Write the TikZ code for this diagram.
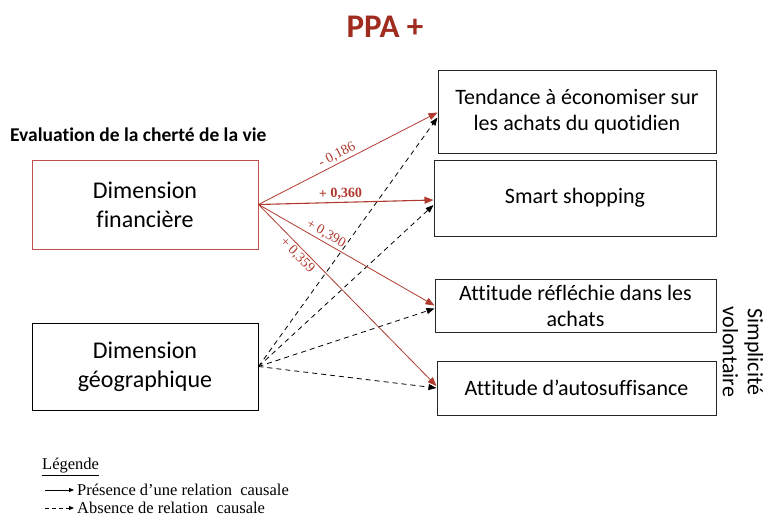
\documentclass[tikz,border=0pt]{standalone}
\usepackage{fontspec}
\setmainfont{Carlito}[Ligatures={NoCommon}]
\newfontfamily\timesfont{Liberation Serif}
\usetikzlibrary{arrows.meta,positioning}
\definecolor{ppared}{HTML}{A02B1F}
\definecolor{boxred}{HTML}{C0504D}
\definecolor{linkred}{HTML}{B03A2E}

\begin{document}
\begin{tikzpicture}[
  x=1pt, y=-1pt,
  dimbox/.style={rectangle, draw, line width=1pt, align=center, minimum width=226pt, font=\fontsize{24}{29}\selectfont},
  effbox/.style={rectangle, draw=black!85, line width=1pt, align=center, font=\fontsize{22}{26}\selectfont},
  link/.style={-{Triangle[length=9pt,width=7pt]}, draw=linkred, line width=0.8pt},
  nolink/.style={-{Triangle[length=8pt,width=6pt]}, dash pattern=on 5pt off 4pt, line width=0.8pt},
  coef/.style={font=\timesfont\fontsize{14}{16}\selectfont, text=linkred, sloped, inner sep=2pt},
  legtext/.style={font=\timesfont\fontsize{16.5}{18}\selectfont, anchor=west, inner sep=3pt}
]
  \useasboundingbox (0,0) rectangle (768,517);

  \node (title) [font=\bfseries\fontsize{33}{36}\selectfont, text=ppared] at (385,27) {PPA +};
  \node (evaltitle) [anchor=west, inner sep=0pt, font=\bfseries\fontsize{19.5}{22}\selectfont] at (10,135) {Evaluation de la cherté de la vie};

  % dimensions
  \node (fin) [dimbox, draw=boxred, minimum height=89pt] at (145,204.5) {Dimension\\financière};
  \node (geo) [dimbox, minimum height=87pt] at (145,366.5) {Dimension\\géographique};

  % consequences
  \node (tend) [effbox, minimum width=278pt, minimum height=83pt] at (577,111.5) {Tendance à économiser sur\\les achats du quotidien};
  \node (smart) [effbox, minimum width=282pt, minimum height=76pt] at (575,198) {Smart shopping};
  \node (refl) [effbox, minimum width=281pt, minimum height=53pt] at (575.5,305.5) {Attitude réfléchie dans les\\achats};
  \node (auto) [effbox, minimum width=279pt, minimum height=54pt] at (576.5,388) {Attitude d’autosuffisance};
  \node (simpl) [rotate=-90, align=center, font=\fontsize{22}{25}\selectfont] at (743,352) {Simplicité\\volontaire};

  % relations
  \draw [nolink] (geo.east) -- ([yshift=-6pt]tend.west);
  \draw [nolink] (geo.east) -- ([yshift=-7pt]smart.west);
  \draw [nolink] (geo.east) -- ([yshift=-3pt]refl.west);
  \draw [nolink] (geo.east) -- (auto.west);

  \draw [link] (fin.east) -- node[coef, above, pos=0.46] {- 0,186} ([yshift=-1pt]tend.west);
  \draw [link, line width=1.1pt] (fin.east) -- node[coef, above, pos=0.47, font=\timesfont\bfseries\fontsize{14}{16}\selectfont] {+ 0,360} ([yshift=-2pt]smart.west);
  \draw [link] (fin.east) -- node[coef, above, pos=0.36] {+ 0,390} (refl.west);
  \draw [link] (fin.east) -- node[coef, below, pos=0.25] {+ 0,359} ([yshift=2pt]auto.west);

  % legend
  \node (legtitle) [legtext] at (39,467) {\underline{Légende}};
  \coordinate (solidtail) at (45,490);
  \coordinate (dashtail) at (45,508);
  \node (solidtxt) [legtext] at (74,490) {Présence d’une relation\ \ causale};
  \node (dashtxt) [legtext] at (74,508) {Absence de relation\ \ causale};
  \draw [-{Triangle[length=5pt,width=4pt]}, line width=0.8pt] (solidtail) -- (solidtxt.west);
  \draw [-{Triangle[length=5pt,width=4pt]}, dash pattern=on 4pt off 3pt, line width=0.8pt] (dashtail) -- (dashtxt.west);
\end{tikzpicture}
\end{document}
